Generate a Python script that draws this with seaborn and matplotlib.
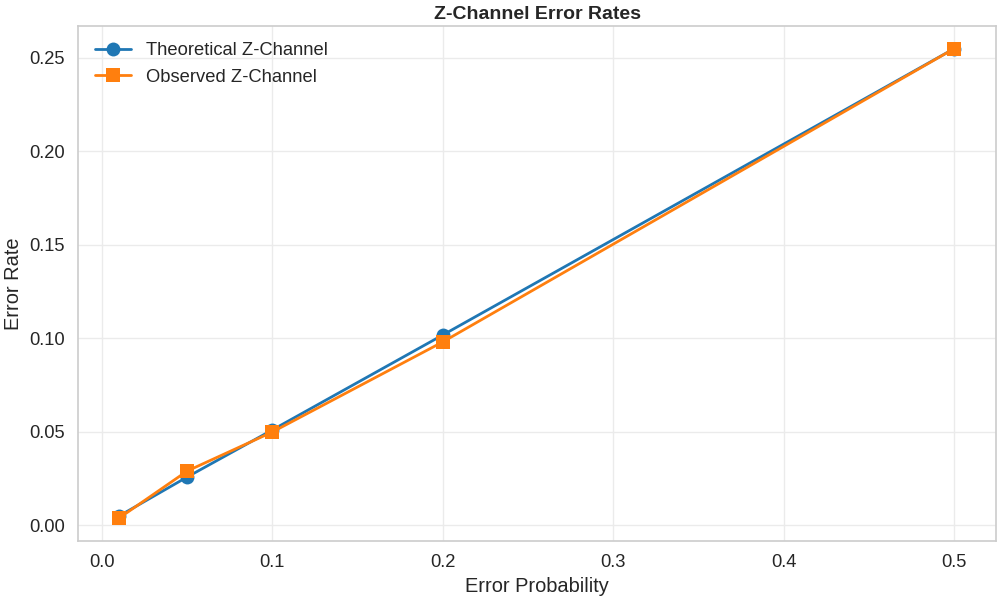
import matplotlib
matplotlib.use("Agg")
import matplotlib.pyplot as plt
import seaborn as sns
import pandas as pd

error_prob = [0.01, 0.05, 0.1, 0.2, 0.5]
theoretical = [0.0048, 0.0257, 0.0509, 0.1017, 0.2549]
observed = [0.0037, 0.0289, 0.0498, 0.0980, 0.2549]
series_names = ["Theoretical Z-Channel", "Observed Z-Channel"]

sns.set_theme(style="whitegrid", context="notebook")
plt.rcParams['font.family'] = ['Liberation Sans', 'DejaVu Sans']
plt.rcParams['axes.edgecolor'] = '#cccccc'
plt.rcParams['grid.color'] = '#ebebeb'

df = pd.DataFrame({
    "Error Probability": error_prob * 2,
    "Error Rate": theoretical + observed,
    "Series": [series_names[0]] * len(error_prob) + [series_names[1]] * len(error_prob),
})

fig, ax = plt.subplots(figsize=(10, 6), dpi=100)
sns.lineplot(data=df, x="Error Probability", y="Error Rate", hue="Series",
             style="Series", markers=["o", "s"], dashes=False,
             palette=["#1f77b4", "#ff7f0e"], linewidth=2, markersize=10,
             markeredgewidth=0, ax=ax)
ax.set_title("Z-Channel Error Rates", fontsize=14, fontweight="bold", pad=5)
ax.set_xlabel("Error Probability", fontsize=14.4)
ax.set_ylabel("Error Rate", fontsize=14.4)
ax.tick_params(labelsize=13.2)
ax.set_xticks([0.0, 0.1, 0.2, 0.3, 0.4, 0.5])
ax.set_yticks([0.0, 0.05, 0.10, 0.15, 0.20, 0.25])
ax.set_ylim(-0.00857, 0.2671)
ax.set_xlim(-0.0141, 0.5247)
leg = ax.legend(title=None, fontsize=13.2, frameon=False, loc="upper left")
for sp in ax.spines.values():
    sp.set_linewidth(1.2)
fig.subplots_adjust(left=0.078, right=0.996, top=0.9567, bottom=0.0983)
fig.savefig("out.png", dpi=100)
